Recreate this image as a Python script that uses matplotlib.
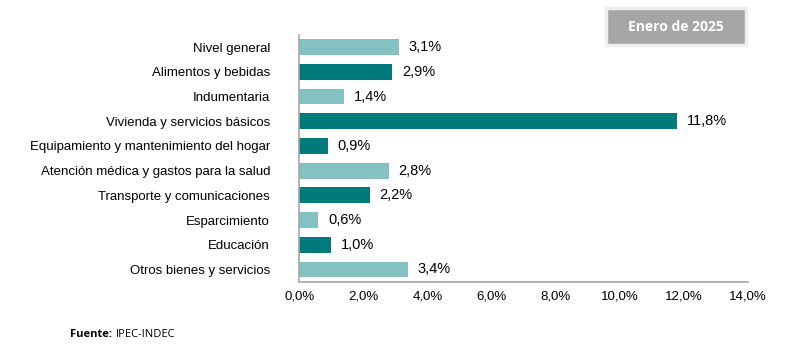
import matplotlib
matplotlib.use("Agg")
import matplotlib.pyplot as plt
from matplotlib.patches import FancyBboxPatch

categorias = ["Nivel general", "Alimentos y bebidas", "Indumentaria",
              "Vivienda y servicios básicos", "Equipamiento y mantenimiento del hogar",
              "Atención médica y gastos para la salud", "Transporte y comunicaciones",
              "Esparcimiento", "Educación", "Otros bienes y servicios"]
valores = [3.1, 2.9, 1.4, 11.8, 0.9, 2.8, 2.2, 0.6, 1.0, 3.4]
tonos = ["claro", "oscuro", "claro", "oscuro", "oscuro",
         "claro", "oscuro", "claro", "oscuro", "claro"]
ticks_x = [0, 2, 4, 6, 8, 10, 12, 14]

COLOR = {"claro": "#84c1c1", "oscuro": "#007a7b"}
plt.rcParams["font.family"] = ["Liberation Sans", "DejaVu Sans"]


def pct(v):
    return f"{v:.1f}%".replace(".", ",")


fig = plt.figure(figsize=(8, 3.51), dpi=100)
ax = fig.add_axes([0.374, 0.197, 0.561, 0.704])
y = list(range(len(categorias)))
ax.barh(y, valores, height=0.64, color=[COLOR[t] for t in tonos])
for yi, v in zip(y, valores):
    ax.text(v + 0.3, yi, pct(v), va="center", ha="left", fontsize=10.5, color="#000000")

ax.set_ylim(len(categorias) - 0.5, -0.5)
ax.set_xlim(0, 14)
ax.set_yticks(y)
ax.set_yticklabels(categorias, fontsize=9.5)
ax.set_xticks(ticks_x)
ax.set_xticklabels([pct(t) for t in ticks_x], fontsize=9.5)
ax.tick_params(axis="y", length=0, pad=21)
ax.tick_params(axis="x", length=0, pad=6)
for s in ("top", "right"):
    ax.spines[s].set_visible(False)
for s in ("left", "bottom"):
    ax.spines[s].set_color("#a6a6a6")
    ax.spines[s].set_linewidth(1.2)

# recuadro del período
fig.patches.append(FancyBboxPatch((0.757, 0.872), 0.175, 0.104, boxstyle="square,pad=0",
                                  transform=fig.transFigure, facecolor="#a6a6a6",
                                  edgecolor="#eeeeee", linewidth=2.5))
fig.text(0.8445, 0.924, "Enero de 2025", ha="center", va="center", color="white",
         fontsize=10, fontweight="bold", family=["Open Sans", "DejaVu Sans"])

# fuente
t1 = fig.text(0.0875, 0.046, "Fuente:", fontsize=8, fontweight="bold", va="center",
              family=["Open Sans", "DejaVu Sans"])
fig.canvas.draw()
bb = t1.get_window_extent().transformed(fig.transFigure.inverted())
fig.text(bb.x1 + 0.005, 0.046, "IPEC-INDEC", fontsize=8, va="center",
         family=["Open Sans", "DejaVu Sans"])

fig.savefig("out.png", dpi=100)
